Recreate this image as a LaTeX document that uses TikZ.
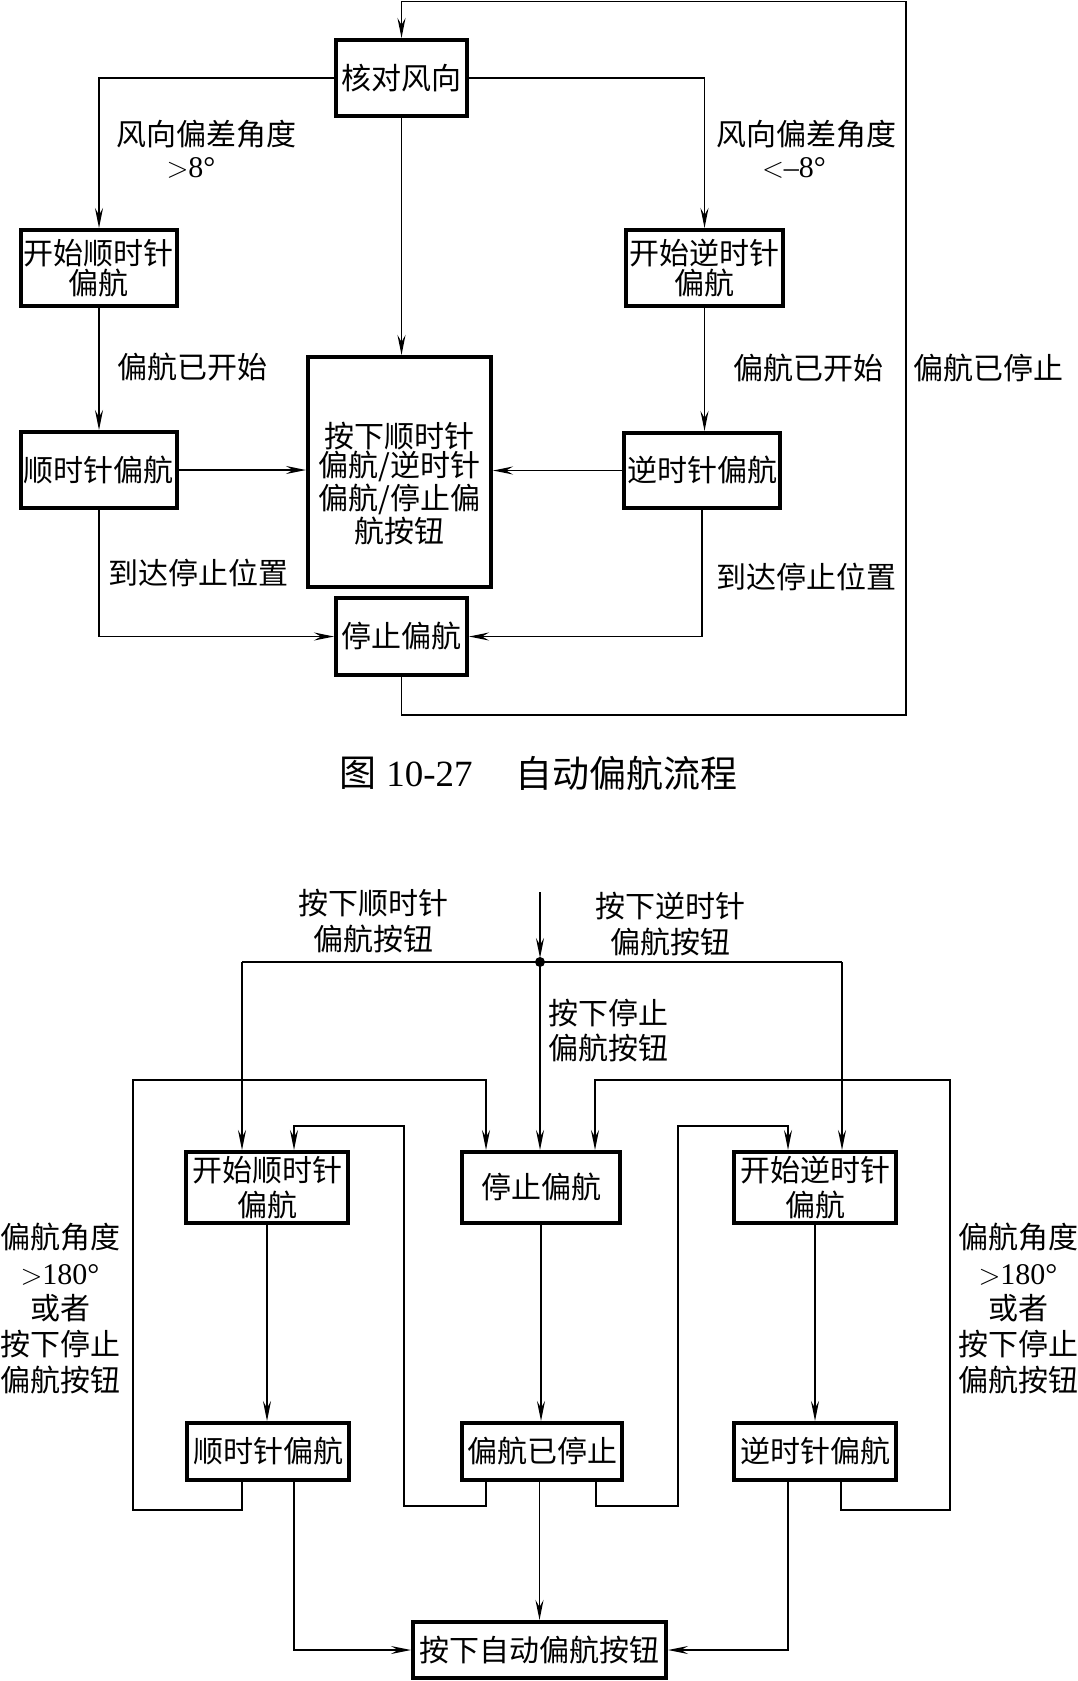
\documentclass[tikz,border=0pt]{standalone}
\usepackage{fontspec}
\setmainfont{Liberation Serif}
\newfontfamily\cjk{Noto Sans CJK SC}
\usetikzlibrary{arrows.meta}
\begin{document}
\begin{tikzpicture}[x=0.5pt,y=-0.5pt,
  conn/.style={line width=0.7pt},
  arr/.style={conn,-{Stealth[length=10pt,width=4pt,inset=3.5pt]}},
  box/.style={draw,line width=2pt,inner sep=0pt,align=center},
  fz/.style={font=\cjk\fontsize{15pt}{#1}\selectfont},
  lbl/.style={inner sep=0pt,align=center,font=\cjk\fontsize{15pt}{17.5pt}\selectfont},
  lblB/.style={inner sep=0pt,align=center,font=\cjk\fontsize{15pt}{#1}\selectfont},
  lat/.style={inner sep=0pt,font=\rmfamily\fontsize{15pt}{17pt}\selectfont}
]
\fill[white] (0,0) rectangle (1077,1681);
\useasboundingbox (0,0) rectangle (1077,1681);

% ---------------- top diagram ----------------
\node[box,fz=14pt,minimum width=65.5pt,minimum height=38pt] (HD) at (401.5,78) {核对风向};
\node[box,fz=14pt,minimum width=78pt,minimum height=38pt] (TKS) at (99,268) {开始顺时针\\偏航};
\node[box,fz=14pt,minimum width=78.5pt,minimum height=38pt] (TKN) at (704.5,268) {开始逆时针\\偏航};
\node[box,fz=14pt,minimum width=78pt,minimum height=38pt] (TSS) at (99,470) {顺时针偏航};
\node[box,fz=14pt,minimum width=78pt,minimum height=37.5pt] (TNS) at (702,470.5) {逆时针偏航};
\node[box,minimum width=91.5pt,minimum height=115pt] (BB) at (399.5,472) {};
\node[lblB=14.5pt] (BBt) at (399.5,483.5) {按下顺时针\\偏航/逆时针\\偏航/停止偏\\航按钮};
\node[box,fz=14pt,minimum width=65.5pt,minimum height=38.5pt] (TTZ) at (401.5,636.5) {停止偏航};

\draw[arr] (TTZ.south) -- ++(0,38) -| (906,1.5) -| (HD.north);
\draw[arr] (HD.west) -| (TKS.north);
\draw[arr] (HD.east) -| (TKN.north);
\draw[arr] (HD.south) -- (HD.south |- BB.north);
\draw[arr] (TKS.south) -- (TKS.south |- TSS.north);
\draw[arr] (TKN.south) -- (TKN.south |- TNS.north);
\draw[arr] (TSS.east) -- (TSS.east -| BB.west);
\draw[arr] (TNS.west) -- (TNS.west -| BB.east);
\draw[arr] (TSS.south) |- (TTZ.west);
\draw[arr] (TNS.south) |- (TTZ.east);

\node[lbl] (l1a) at (206,134) {风向偏差角度};
\node[lat] (l1b) at (191,168) {$>$8°};
\node[lbl] (l2a) at (806,134) {风向偏差角度};
\node[lat] (l2b) at (794,168) {$<$–8°};
\node[lbl] (t1) at (192,367) {偏航已开始};
\node[lbl] (t2) at (808,368) {偏航已开始};
\node[lbl] (t3) at (988,368) {偏航已停止};
\node[lbl] (t4) at (198,573) {到达停止位置};
\node[lbl] (t5) at (806,577) {到达停止位置};

\node[anchor=west,inner sep=0pt,font=\fontsize{18.5pt}{20pt}\selectfont] (cap1) at (339,773) {{\cjk 图}\hspace{5pt}10-27};
\node[anchor=west,inner sep=0pt,font=\cjk\fontsize{18.5pt}{20pt}\selectfont] (cap2) at (515,773) {自动偏航流程};

% ---------------- bottom diagram ----------------
\node[box,fz=17.5pt,minimum width=81pt,minimum height=35.5pt] (KS) at (267,1187.5) {开始顺时针\\偏航};
\node[box,fz=17.5pt,minimum width=79pt,minimum height=35.5pt] (TZ) at (541,1187.5) {停止偏航};
\node[box,fz=17.5pt,minimum width=81pt,minimum height=35.5pt] (KN) at (815,1187.5) {开始逆时针\\偏航};
\node[box,fz=14pt,minimum width=81pt,minimum height=28.5pt] (SS) at (268,1451.5) {顺时针偏航};
\node[box,fz=14pt,minimum width=80pt,minimum height=28.5pt] (YT) at (542,1451.5) {偏航已停止};
\node[box,fz=14pt,minimum width=81pt,minimum height=28.5pt] (NS) at (815,1451.5) {逆时针偏航};
\node[box,fz=14pt,minimum width=126.5pt,minimum height=28pt] (AZ) at (539.5,1650) {按下自动偏航按钮};

\coordinate (IN) at (540,892);
\coordinate (J) at (540,962);
\coordinate (JL) at (242,962);
\coordinate (JR) at (842,962);
\draw[arr,shorten >=2pt] (IN) -- (J);
\fill (J) circle[radius=5];
\draw[conn] (JL) -- (JR);
\draw[arr] (JL) -- (JL |- KS.north);
\draw[arr] (J) -- (J |- TZ.north);
\draw[arr] (JR) -- (JR |- KN.north);
\draw[arr] (KS.south) -- (KS.south |- SS.north);
\draw[arr] (TZ.south) -- (TZ.south |- YT.north);
\draw[arr] (KN.south) -- (KN.south |- NS.north);
\draw[arr] (AZ.north |- YT.south) -- (AZ.north);
\draw[arr] (SS.south -| 294,0) |- (AZ.west);
\draw[arr] (NS.south -| 788,0) |- (AZ.east);
\draw[arr] (SS.south -| 242,0) |- (133,1510) |- (486,1080) -- (TZ.north -| 486,0);
\draw[arr] (NS.south -| 841,0) |- (950,1510) |- (595,1080) -- (TZ.north -| 595,0);
\draw[arr] (YT.south -| 486,0) |- (404,1506) |- (294,1126) -- (KS.north -| 294,0);
\draw[arr] (YT.south -| 596,0) |- (678,1506) |- (788,1126) -- (KN.north -| 788,0);

\node[lblB=18pt] (b1) at (373,921.5) {按下顺时针\\偏航按钮};
\node[lblB=18pt] (b2) at (670,924.5) {按下逆时针\\偏航按钮};
\node[lblB=17.5pt,align=left,anchor=west] (b3) at (548,1030.5) {按下停止\\偏航按钮};
\node[lblB=17.85pt] (b4) at (60,1308.5) {偏航角度\\{\rmfamily$>$180°}\\或者\\按下停止\\偏航按钮};
\node[lblB=17.85pt] (b5) at (1018,1308.5) {偏航角度\\{\rmfamily$>$180°}\\或者\\按下停止\\偏航按钮};
\end{tikzpicture}
\end{document}
